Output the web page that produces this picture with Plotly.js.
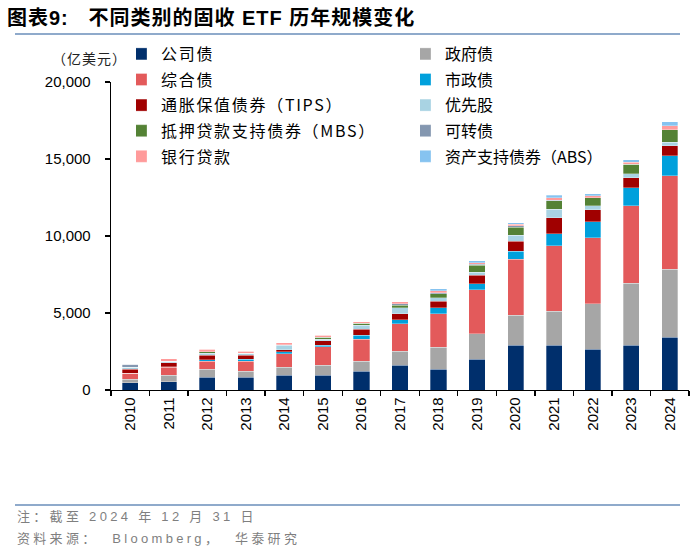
<!DOCTYPE html>
<html><head><meta charset="utf-8">
<script src="https://cdn.plot.ly/plotly-3.0.1.min.js"></script>
<style>
html,body{margin:0;padding:0;background:#fff}
#chart{width:700px;height:553px}
.legendtext{letter-spacing:1.7px}
#chart .annotation[data-index="0"] .annotation-text{letter-spacing:1px}
#chart .annotation[data-index="1"] .annotation-text{letter-spacing:1px}
#chart .annotation[data-index="2"] .annotation-text{letter-spacing:3.3px}
#chart .annotation[data-index="3"] .annotation-text{letter-spacing:3.3px}
</style>
</head><body><div id="chart"></div>
<script>
const years = ['2010','2011','2012','2013','2014','2015','2016','2017','2018','2019','2020','2021','2022','2023','2024'];
const corporate   = [470, 540, 820, 820, 970, 970, 1230, 1610, 1360, 2005, 2910, 2900, 2650, 2890, 3410];
const government  = [220, 430, 520, 390, 500, 625, 650, 905, 1420, 1660, 1940, 2210, 2960, 4055, 4420];
const aggregate   = [390, 500, 540, 670, 900, 1210, 1420, 1790, 2180, 2850, 3625, 4270, 4290, 5030, 6085];
const municipal   = [20, 30, 90, 110, 130, 110, 240, 260, 390, 390, 520, 755, 1040, 1165, 1295];
const tips        = [260, 260, 280, 280, 130, 280, 390, 390, 410, 540, 650, 1060, 775, 645, 650];
const preferred   = [130, 110, 130, 110, 260, 85, 260, 390, 240, 215, 390, 540, 260, 260, 235];
const mbs         = [0, 0, 110, 0, 40, 130, 130, 150, 260, 430, 540, 540, 495, 625, 795];
const convertible = [170, 0, 0, 0, 0, 0, 0, 100, 60, 80, 100, 60, 0, 0, 0];
const bankLoans   = [0, 150, 150, 150, 130, 150, 110, 150, 130, 100, 80, 160, 130, 130, 260];
const abs         = [0, 0, 0, 0, 0, 0, 0, 0, 130, 110, 110, 160, 150, 150, 260];

const L = 111, R = 689, T = 82, B = 390;
const px = x => (x - L) / (R - L);
const py = y => (B - y) / (B - T);

const series = [
  {name: '公司债', y: corporate, color: '#002F6C', lg: 'legend'},
  {name: '政府债', y: government, color: '#A6A6A6', lg: 'legend2'},
  {name: '综合债', y: aggregate, color: '#E35A5B', lg: 'legend'},
  {name: '市政债', y: municipal, color: '#00A0DC', lg: 'legend2'},
  {name: '通胀保值债券（TIPS）', y: tips, color: '#A00000', lg: 'legend'},
  {name: '优先股', y: preferred, color: '#A9D3E3', lg: 'legend2'},
  {name: '抵押贷款支持债券（MBS）', y: mbs, color: '#548235', lg: 'legend'},
  {name: '可转债', y: convertible, color: '#8497B0', lg: 'legend2'},
  {name: '银行贷款', y: bankLoans, color: '#FF9B9B', lg: 'legend'},
  {name: '资产支持债券（ABS）', y: abs, color: '#86C3F0', lg: 'legend2'}
];

const traces = series.map((s, i) => ({
  type: 'bar', x: years, y: s.y, name: s.name,
  marker: {color: s.color, line: {color: 'rgba(255,255,255,0.6)', width: 0.5}},
  legend: s.lg, legendgroup: 'g' + i
}));

const cjk = '"Noto Sans CJK SC", "Liberation Sans", Arial, sans-serif';
const lat = '"Liberation Sans", Arial, "Noto Sans CJK SC", sans-serif';
const legendBase = {
  orientation: 'v', yanchor: 'top', xanchor: 'left',
  bgcolor: 'rgba(0,0,0,0)', borderwidth: 0, tracegroupgap: 1.8,
  traceorder: 'grouped', indentation: -15,
  font: {family: cjk, size: 16, color: '#000'}
};

const layout = {
  width: 700, height: 553,
  margin: {l: L, r: 700 - R, t: T, b: 553 - B},
  paper_bgcolor: '#fff', plot_bgcolor: '#fff',
  barmode: 'stack', bargap: 0.58,
  showlegend: true,
  legend: Object.assign({}, legendBase, {x: px(136), y: py(37)}),
  legend2: Object.assign({}, legendBase, {x: px(420), y: py(37)}),
  xaxis: {
    type: 'category', showline: true, linecolor: '#000', linewidth: 1.3,
    ticks: 'outside', tickson: 'boundaries', ticklen: 5, tickcolor: '#000', tickwidth: 1.3,
    tickangle: -90, tickfont: {family: lat, size: 15, color: '#000'},
    showgrid: false, zeroline: false, fixedrange: true
  },
  yaxis: {
    range: [0, 20000], dtick: 5000, tickformat: ',',
    showline: true, linecolor: '#000', linewidth: 1.3,
    ticks: 'outside', ticklen: 5, tickcolor: '#000', tickwidth: 1.3,
    tickfont: {family: lat, size: 15, color: '#000'}, ticklabelstandoff: 11,
    showgrid: false, zeroline: false, fixedrange: true
  },
  shapes: [
    {type: 'line', xref: 'paper', yref: 'paper', x0: px(15), x1: px(680), y0: py(34), y1: py(34),
     line: {color: '#8FAACB', width: 2}},
    {type: 'line', xref: 'paper', yref: 'paper', x0: px(15), x1: px(680), y0: py(505), y1: py(505),
     line: {color: '#8FAACB', width: 2}}
  ],
  annotations: [
    {text: '<b>图表9:</b>&nbsp;&nbsp;&nbsp;<b>不同类别的固收 ETF 历年规模变化</b>', xref: 'paper', yref: 'paper',
     x: px(5), y: py(18), xanchor: 'left', yanchor: 'middle', align: 'left', showarrow: false,
     font: {family: lat, size: 20, color: '#000'}},
    {text: '（亿美元）', xref: 'paper', yref: 'paper', x: px(50), y: py(58),
     xanchor: 'left', yanchor: 'middle', align: 'left', showarrow: false,
     font: {family: cjk, size: 14, color: '#222'}},
    {text: '注：截至 2024 年 12 月 31 日', xref: 'paper', yref: 'paper', x: px(15), y: py(516),
     xanchor: 'left', yanchor: 'middle', align: 'left', showarrow: false,
     font: {family: lat, size: 13, color: '#7F7F7F'}},
    {text: '资料来源：&nbsp; Bloomberg，&nbsp; 华泰研究', xref: 'paper', yref: 'paper', x: px(15), y: py(538),
     xanchor: 'left', yanchor: 'middle', align: 'left', showarrow: false,
     font: {family: lat, size: 13, color: '#7F7F7F'}}
  ]
};

Plotly.newPlot('chart', traces, layout, {displayModeBar: false, staticPlot: true});
</script></body></html>
